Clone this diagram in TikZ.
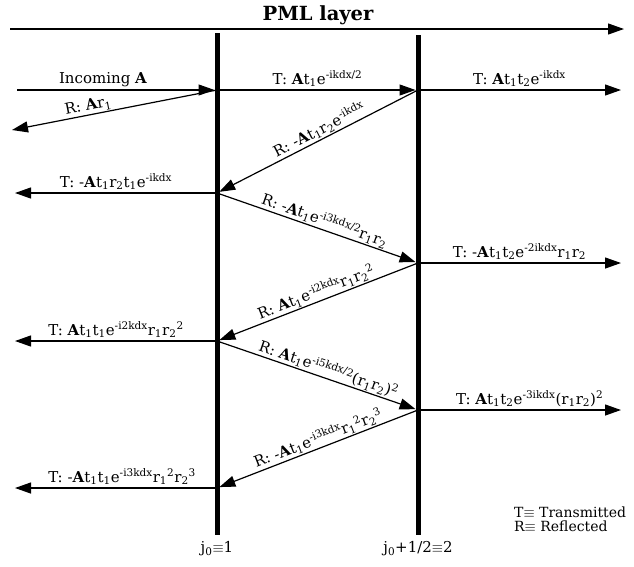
\documentclass[tikz,border=0pt]{standalone}
\usepackage{fontspec}
\setmainfont{DejaVu Serif}
\usetikzlibrary{arrows.meta, positioning}

\begin{document}
\begin{tikzpicture}[
      x=1pt, y=-1pt,
      wall/.style={line width=5pt},
      arrow/.style={line width=1.2pt, -{Triangle[length=16pt,width=11pt]}},
      hit/.style={shorten >=2.5pt},
      lbl/.style={font=\fontsize{15}{17}\selectfont, inner sep=2.5pt},
      slbl/.style={lbl, sloped, above, inner sep=1pt}
    ]
    \useasboundingbox (0,0) rectangle (634,566);

    % Punkte
    \coordinate (ptopl) at (10,29);
    \coordinate (ptopr) at (624,29);
    \coordinate (w1top) at (217,33);
    \coordinate (w1bot) at (217,535);
    \coordinate (w2top) at (418,35);
    \coordinate (w2bot) at (418,535);
    \coordinate (a1) at (217,90);
    \coordinate (b1) at (418,90);
    \coordinate (a2) at (217,193);
    \coordinate (b2) at (418,263);
    \coordinate (a3) at (217,341);
    \coordinate (b3) at (418,410);
    \coordinate (a4) at (217,488);
    \coordinate (in) at (17,90);
    \coordinate (lr) at (12,130);
    \coordinate (l2) at (15,193);
    \coordinate (l3) at (15,341);
    \coordinate (l4) at (15,488);
    \coordinate (r1) at (621,90);
    \coordinate (r2) at (621,263);
    \coordinate (r3) at (621,410);

    % PML
    \node (pml) [font=\fontsize{19.5}{22}\selectfont\bfseries] at (318,15) {PML layer};
    \draw [arrow] (ptopl) -- (ptopr);

    % Wande
    \draw [wall] (w1top) -- (w1bot);
    \draw [wall] (w2top) -- (w2bot);
    \node (j1) [lbl, below=4pt of w1bot] {j\textsubscript{0}$\equiv$1};
    \node (j2) [lbl, below=4pt of w2bot] {j\textsubscript{0}+1/2$\equiv$2};

    % Transmission
    \draw [arrow, hit] (in) -- node[lbl, above, pos=0.43] {Incoming \textbf{A}} (a1);
    \draw [arrow, hit] (a1) -- node[lbl, above] {T: \textbf{A}t\textsubscript{1}e\textsuperscript{-ikdx/2}} (b1);
    \draw [arrow] (b1) -- node[lbl, above] {T: \textbf{A}t\textsubscript{1}t\textsubscript{2}e\textsuperscript{-ikdx}} (r1);
    \draw [arrow] (a2) -- node[lbl, above] {T: -\textbf{A}t\textsubscript{1}r\textsubscript{2}t\textsubscript{1}e\textsuperscript{-ikdx}} (l2);
    \draw [arrow] (b2) -- node[lbl, above] {T: -\textbf{A}t\textsubscript{1}t\textsubscript{2}e\textsuperscript{-2ikdx}r\textsubscript{1}r\textsubscript{2}} (r2);
    \draw [arrow] (a3) -- node[lbl, above] {T: \textbf{A}t\textsubscript{1}t\textsubscript{1}e\textsuperscript{-i2kdx}r\textsubscript{1}r\textsubscript{2}\textsuperscript{2}} (l3);
    \draw [arrow] (b3) -- node[lbl, above, pos=0.55] {T: \textbf{A}t\textsubscript{1}t\textsubscript{2}e\textsuperscript{-3ikdx}(r\textsubscript{1}r\textsubscript{2})\textsuperscript{2}} (r3);
    \draw [arrow] (a4) -- node[lbl, above, pos=0.47] {T: -\textbf{A}t\textsubscript{1}t\textsubscript{1}e\textsuperscript{-i3kdx}r\textsubscript{1}\textsuperscript{2}r\textsubscript{2}\textsuperscript{3}} (l4);

    % Reflexion
    \draw [arrow] (a1) -- node[slbl, pos=0.62] {R: \textbf{A}r\textsubscript{1}} (lr);
    \draw [arrow, hit] (b1) -- node[slbl, pos=0.47] {R: -\textbf{A}t\textsubscript{1}r\textsubscript{2}e\textsuperscript{-ikdx}} (a2);
    \draw [arrow, hit] (a2) -- node[slbl, pos=0.52] {R: -\textbf{A}t\textsubscript{1}e\textsuperscript{-i3kdx/2}r\textsubscript{1}r\textsubscript{2}} (b2);
    \draw [arrow, hit] (b2) -- node[slbl, pos=0.49] {R: \textbf{A}t\textsubscript{1}e\textsuperscript{-i2kdx}r\textsubscript{1}r\textsubscript{2}\textsuperscript{2}} (a3);
    \draw [arrow, hit] (a3) -- node[slbl, pos=0.54] {R: \textbf{A}t\textsubscript{1}e\textsuperscript{-i5kdx/2}(r\textsubscript{1}r\textsubscript{2})\textsuperscript{2}} (b3);
    \draw [arrow, hit] (b3) -- node[slbl, pos=0.48] {R: -\textbf{A}t\textsubscript{1}e\textsuperscript{-i3kdx}r\textsubscript{1}\textsuperscript{2}r\textsubscript{2}\textsuperscript{3}} (a4);

    % Legende
    \node (legT) [font=\fontsize{14}{16}\selectfont, inner sep=1pt, anchor=west] at (513,512) {T$\equiv$ Transmitted};
    \node (legR) [font=\fontsize{14}{16}\selectfont, inner sep=1pt, below=1pt of legT.south west, anchor=north west] {R$\equiv$ Reflected};

  \end{tikzpicture}
\end{document}
